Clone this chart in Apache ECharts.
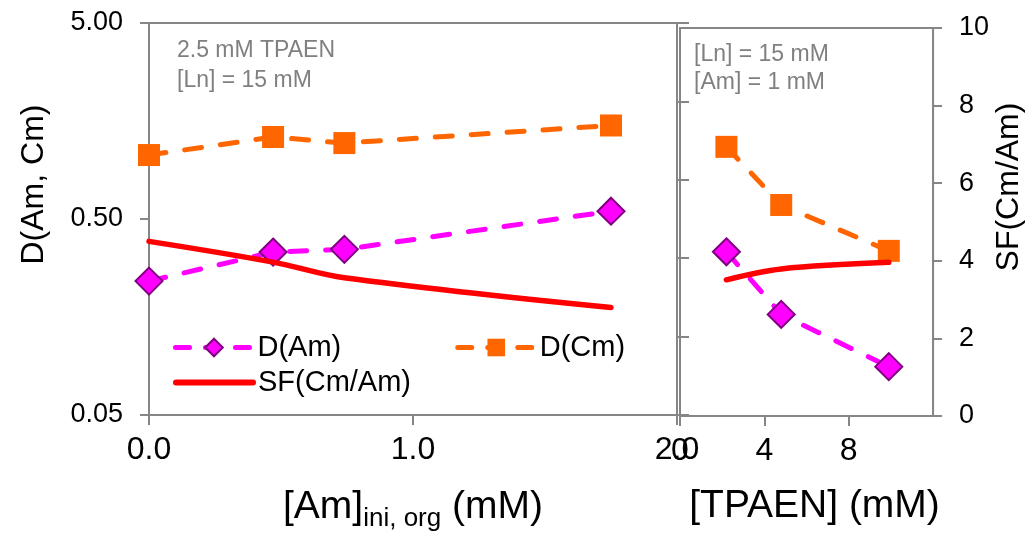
<!DOCTYPE html>
<html>
<head>
<meta charset="utf-8">
<script src="https://cdn.jsdelivr.net/npm/echarts@6/dist/echarts.min.js"></script>
<style>
html,body{margin:0;padding:0;background:#fff;}
#chart{width:1026px;height:537px;}
</style>
</head>
<body>
<div id="chart"></div>
<script>
// ---- data ----
const amIni = [0, 0.47, 0.74, 1.75];            // [Am]ini,org (mM), left panel
const dAmLeft = [0.241, 0.339, 0.350, 0.548];
const dCmLeft = [1.06, 1.31, 1.22, 1.50];
const sfLeft = [4.43, 3.90, 3.50, 2.74];

const tpaen = [2.2, 4.8, 9.9];                 // [TPAEN] (mM), right panel
const dAmRight = [0.351, 0.167, 0.0898];
const dCmRight = [1.22, 0.612, 0.355];
const sfRight = [3.51, 3.79, 3.96];

const dTicks = [0.05, 0.5, 5];
const amTicks = [0, 1, 2];
const tpaenTicks = [0, 4, 8];
const sfTicks = [0, 2, 4, 6, 8, 10];

const FONT = '"Liberation Sans", Arial, sans-serif';
const AXIS = '#868686';
const zip = (xs, ys) => xs.map((x, i) => [x, ys[i]]);

const chart = echarts.init(document.getElementById('chart'), null, {renderer: 'canvas'});

const axisLine = {show: true, lineStyle: {color: AXIS, width: 2}};
const noSplit = {show: false};

const dashStyle = (c) => ({color: c, width: 5, type: [17, 19], cap: 'round'});

function dAm(xi, yi, data) {
  return {
    name: 'D(Am)', type: 'line', xAxisIndex: xi, yAxisIndex: yi, data: data,
    symbol: 'diamond', symbolSize: 27,
    itemStyle: {color: '#FF00FF', borderColor: '#7F007F', borderWidth: 2},
    lineStyle: dashStyle('#FF00FF'), animation: false, z: 3
  };
}
function dCm(xi, yi, data) {
  return {
    name: 'D(Cm)', type: 'line', xAxisIndex: xi, yAxisIndex: yi, data: data,
    symbol: 'rect', symbolSize: 22,
    itemStyle: {color: '#FF6600'},
    lineStyle: dashStyle('#FF6600'), animation: false, z: 3
  };
}
function sf(xi, yi, data) {
  return {
    name: 'SF(Cm/Am)', type: 'line', xAxisIndex: xi, yAxisIndex: yi, data: data,
    symbol: 'none', smooth: 0.35,
    itemStyle: {color: '#FF0000'},
    lineStyle: {color: '#FF0000', width: 5.5, cap: 'round'}, animation: false, z: 4
  };
}

const option = {
  backgroundColor: '#fff',
  textStyle: {fontFamily: FONT},
  animation: false,
  grid: [
    {left: 149, top: 23, width: 528, height: 393, show: true, borderColor: AXIS, borderWidth: 2, backgroundColor: 'transparent'},
    {left: 680, top: 28, width: 256, height: 388, show: true, borderColor: AXIS, borderWidth: 2, backgroundColor: 'transparent'}
  ],
  xAxis: [
    {
      gridIndex: 0, type: 'value', min: 0, max: 2, interval: 1,
      axisLine: axisLine, splitLine: noSplit,
      axisTick: {show: true, inside: false, length: 10, lineStyle: {color: AXIS, width: 2}, customValues: amTicks},
      axisLabel: {customValues: amTicks, formatter: v => v.toFixed(1), fontSize: 32, color: '#000', margin: 19, fontFamily: FONT},
      name: '{a|[Am]}{b|ini, org}{a| (mM)}', nameLocation: 'middle', nameGap: 67,
      nameTextStyle: {fontFamily: FONT, color: '#000', fontSize: 38,
        rich: {a: {fontSize: 39, fontFamily: FONT, color: '#000'},
               b: {fontSize: 26, fontFamily: FONT, color: '#000', padding: [24, 0, 0, 0]}}}
    },
    {
      gridIndex: 1, type: 'value', min: 0, max: 12, interval: 4,
      axisLine: axisLine, splitLine: noSplit,
      axisTick: {show: true, inside: false, length: 10, lineStyle: {color: AXIS, width: 2}, customValues: tpaenTicks},
      axisLabel: {customValues: tpaenTicks, fontSize: 32, color: '#000', margin: 19, fontFamily: FONT},
      name: '[TPAEN] (mM)', nameLocation: 'middle', nameGap: 71,
      nameTextStyle: {fontFamily: FONT, color: '#000', fontSize: 39, padding: [0, 0, 0, 16]}
    }
  ],
  yAxis: [
    {
      gridIndex: 0, type: 'log', logBase: 10, min: 0.05, max: 5, position: 'left',
      axisLine: axisLine, splitLine: noSplit, minorTick: {show: false}, minorSplitLine: {show: false},
      axisTick: {show: true, inside: false, length: 9, lineStyle: {color: AXIS, width: 2}, customValues: dTicks},
      axisLabel: {customValues: dTicks, formatter: v => Number(v).toFixed(2), fontSize: 27, color: '#000', margin: 26, fontFamily: FONT},
      name: 'D(Am, Cm)', nameLocation: 'middle', nameGap: 99,
      nameTextStyle: {fontFamily: FONT, color: '#000', fontSize: 32, padding: [0, 0, 0, 69]}
    },
    {
      gridIndex: 0, type: 'value', min: 0, max: 10, interval: 2, position: 'right',
      axisLine: axisLine, splitLine: noSplit,
      axisTick: {show: true, inside: false, length: 12, lineStyle: {color: AXIS, width: 2}},
      axisLabel: {show: false}
    },
    {
      gridIndex: 1, type: 'log', logBase: 10, min: 0.05, max: 5, position: 'left',
      axisLine: axisLine, splitLine: noSplit, minorTick: {show: false},
      axisTick: {show: false}, axisLabel: {show: false}
    },
    {
      gridIndex: 1, type: 'value', min: 0, max: 10, interval: 2, position: 'right',
      axisLine: axisLine, splitLine: noSplit,
      axisTick: {show: true, inside: false, length: 9, lineStyle: {color: AXIS, width: 2}, customValues: sfTicks},
      axisLabel: {customValues: sfTicks, fontSize: 27, color: '#000', margin: 26, fontFamily: FONT},
      name: 'SF(Cm/Am)', nameLocation: 'middle', nameGap: 52,
      nameTextStyle: {fontFamily: FONT, color: '#000', fontSize: 32, padding: [0, 0, 0, 70]}
    }
  ],
  legend: [
    {
      data: ['D(Am)', 'D(Cm)'], left: 173, top: 333, orient: 'horizontal', padding: 0,
      itemWidth: 77, itemHeight: 22, itemGap: 114,
      lineStyle: {width: 5, type: [14, 16], cap: 'round'},
      textStyle: {fontSize: 29, color: '#000', fontFamily: FONT}, selectedMode: false
    },
    {
      data: ['SF(Cm/Am)'], left: 173, top: 368, orient: 'horizontal', padding: 0,
      itemWidth: 77, itemHeight: 22,
      lineStyle: {width: 6, cap: 'round'},
      itemStyle: {opacity: 0},
      textStyle: {fontSize: 29, color: '#000', fontFamily: FONT}, selectedMode: false
    }
  ],
  graphic: [
    {type: 'text', left: 177, top: 36, silent: true,
      style: {text: '2.5 mM TPAEN\n[Ln] = 15 mM', fill: '#808080', font: '23px "Liberation Sans", Arial, sans-serif', lineHeight: 30}},
    {type: 'text', left: 694, top: 41, silent: true,
      style: {text: '[Ln] = 15 mM\n[Am] = 1 mM', fill: '#808080', font: '23px "Liberation Sans", Arial, sans-serif', lineHeight: 28}}
  ],
  series: [
    dAm(0, 0, zip(amIni, dAmLeft)),
    dCm(0, 0, zip(amIni, dCmLeft)),
    sf(0, 1, zip(amIni, sfLeft)),
    dAm(1, 2, zip(tpaen, dAmRight)),
    dCm(1, 2, zip(tpaen, dCmRight)),
    sf(1, 3, zip(tpaen, sfRight))
  ]
};
chart.setOption(option);
</script>
</body>
</html>
